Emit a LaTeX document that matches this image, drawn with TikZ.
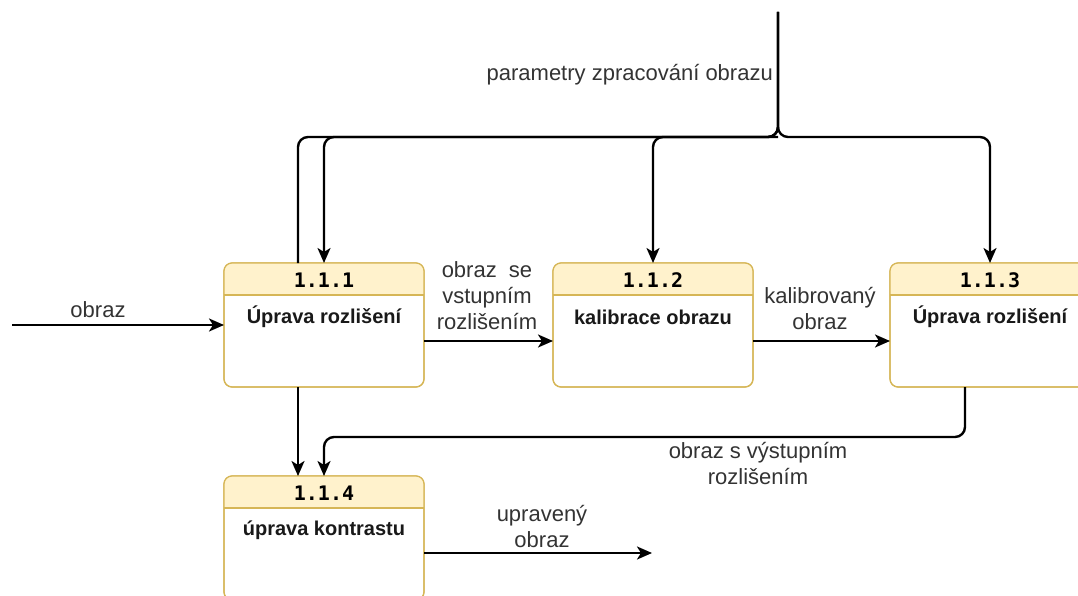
\documentclass[tikz,border=0pt]{standalone}
\usepackage{fontspec}
\setmainfont{Liberation Sans}
\newfontfamily\titlefont{DejaVu Sans Mono}
\usetikzlibrary{arrows.meta,calc}
\definecolor{hdr}{HTML}{FFF2CC}
\definecolor{bdr}{HTML}{D6B656}
\definecolor{txt}{HTML}{333333}
\newcommand\procbox[5]{%
  \node[box] (#1) at (#2,#3) {};
  \begin{scope}
    \clip[rounded corners=8pt] (#1.north west) rectangle (#1.south east);
    \fill[hdr] (#1.north west) rectangle ([yshift=-32pt]#1.north east);
  \end{scope}
  \draw[bdr, line width=1.2pt] ([yshift=-32pt]#1.north west) -- ([yshift=-32pt]#1.north east);
  \draw[bdr, line width=1.2pt, rounded corners=8pt] (#1.north west) rectangle (#1.south east);
  \node[ttl] (#1t) at ([yshift=-17pt]#1.north) {#4};
  \node[bdy] (#1b) at ([yshift=-54pt]#1.north) {#5};
}
\begin{document}
\begin{tikzpicture}[x=1pt,y=-1pt,
  box/.style={draw=bdr, line width=1.2pt, fill=white, rounded corners=8pt,
    minimum width=200pt, minimum height=124pt, inner sep=0pt, outer sep=0pt},
  ttl/.style={font=\titlefont\bfseries\fontsize{20}{24}\selectfont, text=black, inner sep=0pt},
  bdy/.style={font=\bfseries\fontsize{20}{24}\selectfont, text=black!90, inner sep=0pt},
  lbl/.style={font=\fontsize{22}{26}\selectfont, text=txt, align=center, inner sep=0pt},
  flow/.style={line width=2.4pt, rounded corners=10pt, -{Stealth[length=15pt,width=13pt,inset=4pt]}},
  wire/.style={line width=2.4pt, rounded corners=10pt},
]
\useasboundingbox (0,0) rectangle (1078,596);
\fill[white] (0,0) rectangle (1078,596);
\clip (0,0) rectangle (1078,596);

\procbox{b1}{324}{325}{1.1.1}{Úprava rozlišení}
\procbox{b2}{653}{325}{1.1.2}{kalibrace obrazu}
\procbox{b3}{990}{325}{1.1.3}{Úprava rozlišení}
\procbox{b4}{324}{538}{1.1.4}{úprava kontrastu}

\coordinate (src) at (778,12);
\coordinate (junc) at (778,137);
\coordinate (in) at (12,325);
\coordinate (out) at (652,553);
\coordinate (bend) at (700,437);

% parameter bus
\draw[wire] ([xshift=-26pt]b1.north) |- (junc);
\draw[flow] (src) -- (junc) -| (b1.north);
\draw[flow] (src) -- (junc) -| (b2.north);
\draw[flow] (src) -- (junc) -| (b3.north);

% main flow
\draw[flow] (in) -- (b1.west);
\draw[flow] ([yshift=-16pt]b1.east) -- ([yshift=-16pt]b2.west);
\draw[flow] ([yshift=-16pt]b2.east) -- ([yshift=-16pt]b3.west);
\draw[flow] ([xshift=-26pt]b1.south) -- ([xshift=-26pt]b4.north);
\draw[flow] ([xshift=-25pt]b3.south) |- (bend) -| (b4.north);
\draw[flow] ([yshift=-15pt]b4.east) -- (out);

% labels
\node[lbl, anchor=east] (lp) at (773,75) {parametry zpracování obrazu};
\node[lbl] (lo) at (98,310) {obraz};
\node[lbl] (l1) at (487,296) {obraz\ \ se\\vstupním\\rozlišením};
\node[lbl] (l2) at (820,309) {kalibrovaný\\obraz};
\node[lbl] (l3) at (758,464) {obraz s výstupním\\rozlišením};
\node[lbl] (l4) at (542,527) {upravený\\obraz};
\end{tikzpicture}
\end{document}
